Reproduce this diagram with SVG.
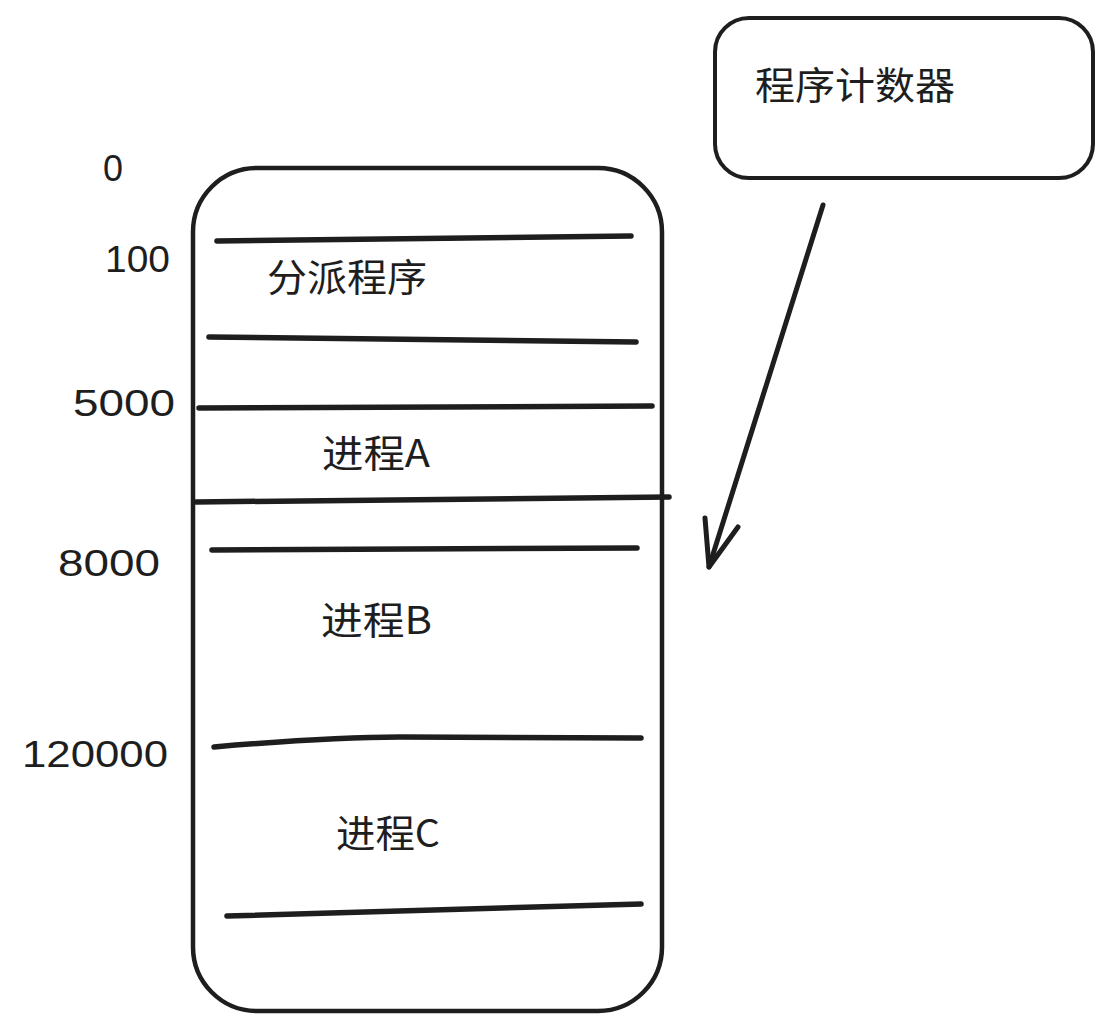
<svg xmlns="http://www.w3.org/2000/svg" width="1112" height="1030" viewBox="0 0 1112 1030">
<style>
.s{fill:none;stroke:#1e1e1e;stroke-linecap:round;stroke-linejoin:round}
.ln{stroke-width:5.5}
.num{font-family:"Liberation Sans","DejaVu Sans",sans-serif;font-size:37px;fill:#1e1e1e}
.cj{font-family:"Noto Sans CJK SC","Noto Sans",sans-serif;font-size:38px;fill:#1e1e1e}
</style>
<rect width="1112" height="1030" fill="#ffffff"/>
<g id="memory">
<rect class="s" x="193" y="168" width="469" height="843" rx="64" ry="64" stroke-width="4.5"/>
</g>
<g id="dividers">
<path class="s ln" d="M217 241 L631 236"/>
<path class="s ln" d="M209 337 L636 342"/>
<path class="s ln" d="M199 408 L652 406"/>
<path class="s ln" d="M196 502 L669 497"/>
<path class="s ln" d="M212 550 L637 548"/>
<path class="s ln" d="M214 747 Q330 737 400 737 L641 738"/>
<path class="s ln" d="M227 916 L641 904"/>
</g>
<g id="addresses">
<text class="num" x="103" y="181" textLength="20" lengthAdjust="spacingAndGlyphs">0</text>
<text class="num" x="105" y="272" textLength="65" lengthAdjust="spacingAndGlyphs">100</text>
<text class="num" x="73" y="416" textLength="102" lengthAdjust="spacingAndGlyphs">5000</text>
<text class="num" x="58" y="576" textLength="102" lengthAdjust="spacingAndGlyphs">8000</text>
<text class="num" x="22" y="767" textLength="146" lengthAdjust="spacingAndGlyphs">120000</text>
</g>
<g id="labels">
<text class="cj" x="267" y="291" textLength="160" lengthAdjust="spacingAndGlyphs">分派程序</text>
<text class="cj" x="322" y="467" textLength="108" lengthAdjust="spacingAndGlyphs">进程A</text>
<text class="cj" x="321" y="634" textLength="111" lengthAdjust="spacingAndGlyphs">进程B</text>
<text class="cj" x="336" y="847" textLength="104" lengthAdjust="spacingAndGlyphs">进程C</text>
</g>
<g id="pc">
<rect class="s" x="715" y="18" width="378" height="160" rx="34" ry="34" stroke-width="4"/>
<text class="cj" x="755" y="99" textLength="200" lengthAdjust="spacingAndGlyphs">程序计数器</text>
</g>
<g id="connectors">
<path class="s" stroke-width="5" d="M823 205 L709 567"/>
<path class="s" stroke-width="5" d="M705 518 L709 567 L738 527"/>
</g>
</svg>
